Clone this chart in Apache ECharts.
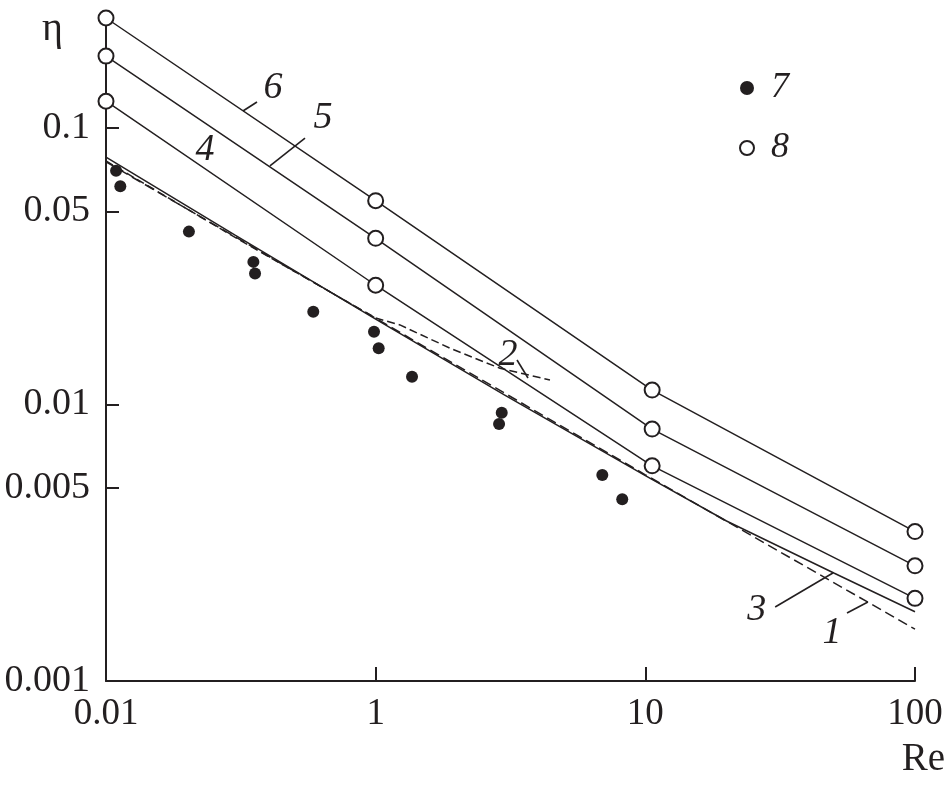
<!DOCTYPE html>
<html>
<head>
<meta charset="utf-8">
<script src="https://cdn.jsdelivr.net/npm/echarts@6/dist/echarts.min.js"></script>
<style>
html,body{margin:0;padding:0;background:#fff;}
#chart{width:946px;height:785px;}
</style>
</head>
<body>
<div id="chart"></div>
<script>
// ---- tick labels ----
const reTicks = [0.1, 1, 10, 100];
const reTickLabels = ['0.01', '1', '10', '100'];
const etaTicks = [0.1, 0.05, 0.01, 0.005, 0.001];
const etaTickLabels = ['0.1', '0.05', '0.01', '0.005', '0.001'];

// ---- curves (Re, eta) ----
const curve1Re  = [0.1, 1, 10, 100];
const curve1Eta = [0.0754, 0.0205, 0.00557, 0.00154];
const curve2Re  = [0.1, 0.3, 1, 1.23, 1.89, 2.89, 4.43];
const curve2Eta = [0.0760, 0.0403, 0.02055, 0.0194, 0.01597, 0.01352, 0.01226];
const curve3Re  = [0.1, 0.3, 1, 3, 10, 20, 50, 100];
const curve3Eta = [0.0785, 0.0411, 0.02038, 0.01083, 0.00553, 0.00379, 0.002458, 0.00178];
const curve4Re  = [0.1, 1, 10.6, 100];
const curve4Eta = [0.125, 0.027, 0.0060, 0.00199];
const curve5Re  = [0.1, 1, 10.6, 100];
const curve5Eta = [0.182, 0.0399, 0.00815, 0.00261];
const curve6Re  = [0.1, 1, 10.6, 100];
const curve6Eta = [0.25, 0.0546, 0.01128, 0.00347];

// ---- experimental points (7) ----
const exp7Re  = [0.109, 0.113, 0.203, 0.352, 0.357, 0.587, 0.986, 1.026, 1.364, 2.934, 2.868, 6.925, 8.21];
const exp7Eta = [0.0701, 0.0616, 0.0422, 0.0328, 0.0298, 0.02166, 0.01834, 0.01597, 0.0126, 0.00934, 0.0085, 0.00556, 0.00454];

// ---- curve number annotations (data coords) ----
const curveLabels = ['1', '2', '3', '4', '5', '6'];
const labelRe  = [49.2, 3.095, 25.9, 0.233, 0.638, 0.416];
const labelEta = [0.001492, 0.0151, 0.001806, 0.0833, 0.1087, 0.1395];
// leader lines
const leaderFromRe  = [55.96, 3.343, 30.3, 0.4055, 0.322];
const leaderFromEta = [0.001762, 0.01449, 0.001852, 0.0729, 0.1152];
const leaderToRe    = [66.9, 3.672, 49.6, 0.547, 0.363];
const leaderToEta   = [0.00193, 0.01247, 0.002458, 0.0920, 0.1242];

const L = Math.log10;
const pts = (xs, ys) => xs.map((x, i) => [L(x), L(ys[i])]);
const INK = '#231f20';
const SERIF = '"Liberation Serif", "DejaVu Serif", serif';

function lineSeries(xs, ys, dash) {
  return {
    type: 'line', data: pts(xs, ys), symbol: 'none', clip: false, silent: true,
    lineStyle: {color: INK, width: 1.5, type: dash || 'solid'}, z: 2
  };
}

const circleData = [].concat(pts(curve4Re, curve4Eta), pts(curve5Re, curve5Eta), pts(curve6Re, curve6Eta));

const series = [
  lineSeries(curve1Re, curve1Eta, [10, 5]),
  lineSeries(curve2Re, curve2Eta, [8, 4]),
  lineSeries(curve3Re, curve3Eta),
  lineSeries(curve4Re, curve4Eta),
  lineSeries(curve5Re, curve5Eta),
  lineSeries(curve6Re, curve6Eta),
  {
    name: '7', type: 'scatter', data: pts(exp7Re, exp7Eta), symbol: 'circle', symbolSize: 12,
    itemStyle: {color: INK, opacity: 1}, clip: false, z: 3
  },
  {
    name: '8', type: 'scatter', data: circleData, symbol: 'emptyCircle', symbolSize: 15,
    itemStyle: {color: INK, borderColor: INK, borderWidth: 1.8, opacity: 1}, clip: false, z: 4
  },
  {
    type: 'scatter', symbolSize: 1, itemStyle: {color: 'rgba(0,0,0,0)', opacity: 1}, clip: false, silent: true,
    data: curveLabels.map((n, i) => ({name: n, value: [L(labelRe[i]), L(labelEta[i])]})),
    label: {show: true, position: 'inside', formatter: '{b}', color: INK, opacity: 1,
            fontFamily: SERIF, fontStyle: 'italic', fontSize: 38}
  }
];
leaderFromRe.forEach((r, i) => {
  series.push({
    type: 'line', symbol: 'none', clip: false, silent: true,
    data: [[L(r), L(leaderFromEta[i])], [L(leaderToRe[i]), L(leaderToEta[i])]],
    lineStyle: {color: INK, width: 1.6}
  });
});

function fmtFrom(ticks, labels) {
  return v => {
    const i = ticks.findIndex(t => Math.abs(L(t) - v) < 1e-6);
    return i >= 0 ? labels[i] : '';
  };
}

const chart = echarts.init(document.getElementById('chart'), null, {renderer: 'canvas'});
chart.setOption({
  animation: false,
  backgroundColor: '#fff',
  grid: {left: 106, right: 31, top: 18, bottom: 104, outerBoundsMode: 'none'},
  xAxis: {
    type: 'value', min: -1, max: 2,
    axisLine: {show: true, onZero: false, lineStyle: {color: INK, width: 2}},
    axisTick: {show: true, inside: true, length: 14, lineStyle: {color: INK, width: 2},
               customValues: reTicks.map(L)},
    axisLabel: {show: true, margin: 15, color: INK, fontFamily: SERIF, fontSize: 37,
                customValues: reTicks.map(L), formatter: fmtFrom(reTicks, reTickLabels)},
    splitLine: {show: false}
  },
  yAxis: {
    type: 'value', min: -3, max: L(0.25),
    axisLine: {show: true, onZero: false, lineStyle: {color: INK, width: 2}},
    axisTick: {show: true, inside: true, length: 13, lineStyle: {color: INK, width: 2},
               customValues: etaTicks.map(L)},
    axisLabel: {show: true, margin: 16, color: INK, fontFamily: SERIF, fontSize: 38,
                customValues: etaTicks.map(L), formatter: fmtFrom(etaTicks, etaTickLabels)},
    splitLine: {show: false}
  },
  legend: {
    data: ['7', '8'], orient: 'vertical', left: 734, top: 65,
    itemWidth: 14, itemHeight: 14, itemGap: 24,
    textStyle: {color: INK, fontFamily: SERIF, fontStyle: 'italic', fontSize: 36, lineHeight: 36,
                padding: [0, 0, 0, 12]}
  },
  graphic: [
    {type: 'text', left: 42, top: 9, style: {text: 'η', font: '40px ' + SERIF, fill: INK}},
    {type: 'text', right: 1, top: 740, style: {text: 'Re', font: '39px ' + SERIF, fill: INK}}
  ],
  series: series
});
</script>
</body>
</html>
